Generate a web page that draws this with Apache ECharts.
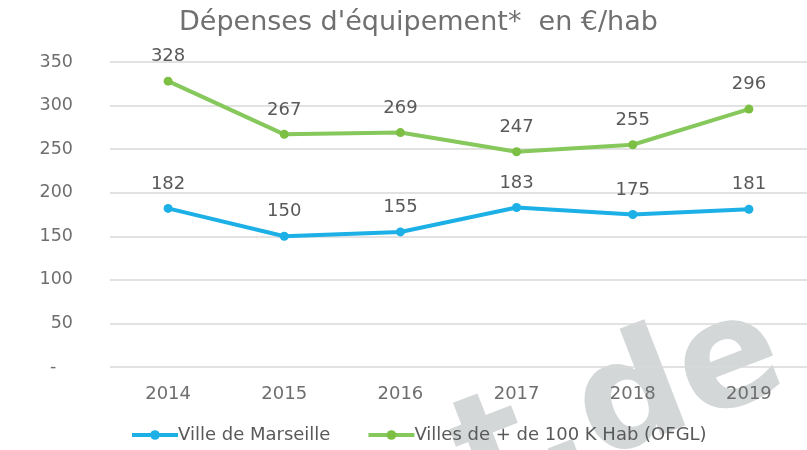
<!DOCTYPE html>
<html>
<head>
<meta charset="utf-8">
<script src="https://cdn.jsdelivr.net/npm/echarts@6/dist/echarts.min.js"></script>
<style>
  html, body { margin: 0; padding: 0; background: #fff; }
  #chart { width: 807px; height: 450px; }
</style>
</head>
<body>
<div id="chart"></div>
<script>
const years = ["2014", "2015", "2016", "2017", "2018", "2019"];
const marseille = [182, 150, 155, 183, 175, 181];
const villes100k = [328, 267, 269, 247, 255, 296];
const seriesNames = ["Ville de Marseille", "Villes de + de 100 K Hab (OFGL)"];

const FONT = "'DejaVu Sans', Verdana, sans-serif";
const chart = echarts.init(document.getElementById("chart"));

const labelStyle = {
  show: true,
  position: "top",
  distance: 11,
  color: "#595959",
  fontFamily: FONT,
  fontSize: 18,
};

const option = {
  animation: false,
  title: {
    text: "Dépenses d'équipement*  en €/hab",
    left: 174,
    top: 4,
    textStyle: {
      color: "#707070",
      fontFamily: FONT,
      fontSize: 27,
      fontWeight: "normal",
    },
  },
  // watermark behind the chart
  graphic: [
    {
      type: "text",
      z: -10,
      x: 490,
      y: 540,
      rotation: 0.37,
      silent: true,
      style: {
        text: "t.de",
        fill: "#d4d7d8",
        font: "bold 150px 'DejaVu Sans'",
        textAlign: "left",
        textVerticalAlign: "bottom",
      },
    },
  ],
  legend: {
    bottom: 1,
    left: 125,
    itemWidth: 46,
    itemHeight: 12,
    itemGap: 36,
    selectedMode: false,
    lineStyle: { width: 4 },
    textStyle: {
      color: "#595959",
      fontFamily: FONT,
      fontSize: 18,
      padding: [0, 0, 0, -5],
    },
    data: seriesNames,
  },
  grid: {
    left: 110,
    right: -5,
    top: 62,
    bottom: 83,
  },
  xAxis: {
    type: "category",
    data: years,
    axisLine: { show: false },
    axisTick: { show: false },
    axisLabel: {
      color: "#6e6e6e",
      fontFamily: FONT,
      fontSize: 18,
      margin: 18,
    },
  },
  yAxis: {
    type: "value",
    min: 0,
    max: 350,
    interval: 50,
    axisLine: { show: false },
    axisTick: { show: false },
    axisLabel: {
      color: "#6e6e6e",
      fontFamily: FONT,
      fontSize: 17.5,
      margin: 37,
      formatter: (v) => (v === 0 ? "-   " : v),
    },
    splitLine: {
      lineStyle: { color: "#d9d9d9", width: 1.5 },
    },
  },
  series: [
    {
      name: seriesNames[0],
      type: "line",
      data: marseille,
      symbol: "circle",
      symbolSize: 9,
      color: "#1cb0e6",
      lineStyle: { width: 4, color: "#1cb0e6" },
      itemStyle: { color: "#1cb0e6" },
      label: labelStyle,
    },
    {
      name: seriesNames[1],
      type: "line",
      data: villes100k,
      symbol: "circle",
      symbolSize: 9,
      color: "#82c557",
      lineStyle: { width: 4, color: "#86c85c" },
      itemStyle: { color: "#7cbf43" },
      label: labelStyle,
    },
  ],
};

chart.setOption(option);
</script>
</body>
</html>
